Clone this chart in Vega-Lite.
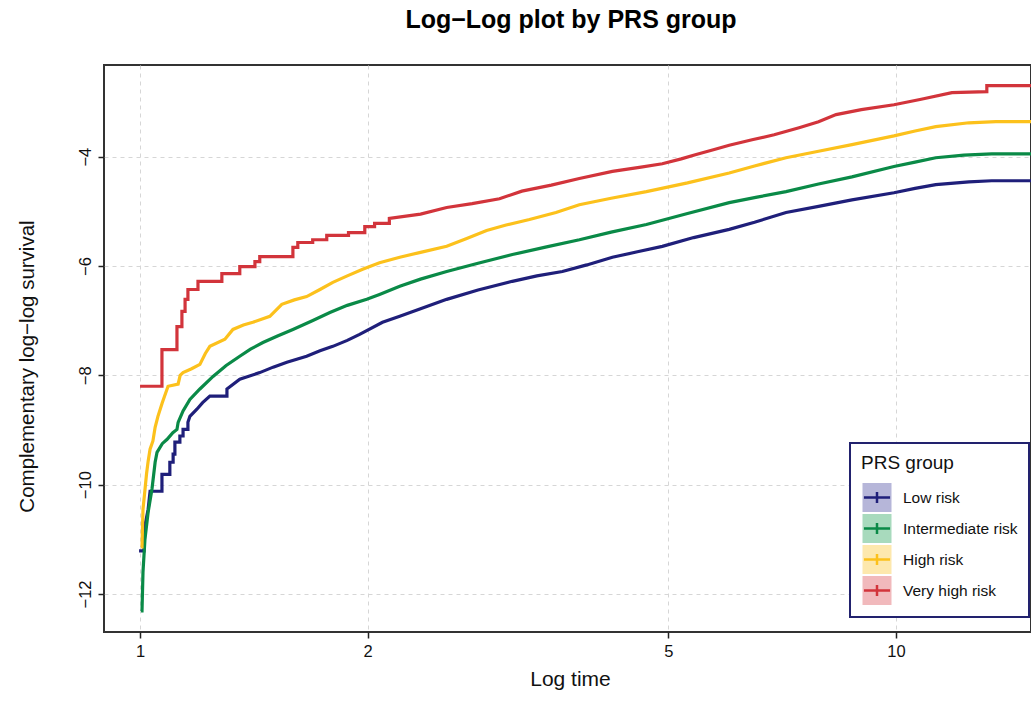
{
  "$schema": "https://vega.github.io/schema/vega-lite/v6.json",
  "autosize": "none",
  "width": 927,
  "height": 567,
  "padding": {"left": 104, "top": 65, "right": 0, "bottom": 70},
  "background": "white",
  "title": {"text": "Log−Log plot by PRS group", "fontSize": 25, "fontWeight": "bold", "font": "Liberation Sans", "color": "black", "anchor": "middle", "frame": "group", "baseline": "alphabetic", "offset": 12.4, "dx": 3.5},
  "config": {
    "font": "Liberation Sans",
    "view": {"stroke": "#333333", "strokeWidth": 2},
    "axis": {"labelFont": "Liberation Sans", "titleFont": "Liberation Sans", "labelColor": "#111111", "titleColor": "#111111", "titleFontWeight": "normal", "grid": true, "gridDash": [4, 4], "gridColor": "#d6d6d6", "gridWidth": 1, "domain": false, "tickColor": "#222222", "tickSize": 6, "tickWidth": 1.5},
    "legend": {"labelFont": "Liberation Sans", "titleFont": "Liberation Sans"}
  },
  "data": {"values": [
    {"g":"Low risk","i":0,"t":0.997,"y":-11.21},{"g":"Low risk","i":1,"t":1.012,"y":-11.21},{"g":"Low risk","i":2,"t":1.015,"y":-10.75},{"g":"Low risk","i":3,"t":1.025,"y":-10.45},{"g":"Low risk","i":4,"t":1.031,"y":-10.12},{"g":"Low risk","i":5,"t":1.069,"y":-10.12},{"g":"Low risk","i":6,"t":1.069,"y":-9.81},{"g":"Low risk","i":7,"t":1.095,"y":-9.81},{"g":"Low risk","i":8,"t":1.095,"y":-9.59},{"g":"Low risk","i":9,"t":1.106,"y":-9.59},{"g":"Low risk","i":10,"t":1.106,"y":-9.44},{"g":"Low risk","i":11,"t":1.112,"y":-9.44},{"g":"Low risk","i":12,"t":1.112,"y":-9.22},{"g":"Low risk","i":13,"t":1.129,"y":-9.22},{"g":"Low risk","i":14,"t":1.129,"y":-9.11},{"g":"Low risk","i":15,"t":1.14,"y":-9.11},{"g":"Low risk","i":16,"t":1.14,"y":-8.99},{"g":"Low risk","i":17,"t":1.157,"y":-8.99},{"g":"Low risk","i":18,"t":1.157,"y":-8.86},{"g":"Low risk","i":19,"t":1.164,"y":-8.75},{"g":"Low risk","i":20,"t":1.189,"y":-8.62},{"g":"Low risk","i":21,"t":1.21,"y":-8.5},{"g":"Low risk","i":22,"t":1.237,"y":-8.38},{"g":"Low risk","i":23,"t":1.303,"y":-8.38},{"g":"Low risk","i":24,"t":1.303,"y":-8.25},{"g":"Low risk","i":25,"t":1.355,"y":-8.07},{"g":"Low risk","i":26,"t":1.44,"y":-7.95},{"g":"Low risk","i":27,"t":1.5,"y":-7.85},{"g":"Low risk","i":28,"t":1.564,"y":-7.76},{"g":"Low risk","i":29,"t":1.661,"y":-7.65},{"g":"Low risk","i":30,"t":1.73,"y":-7.55},{"g":"Low risk","i":31,"t":1.799,"y":-7.47},{"g":"Low risk","i":32,"t":1.88,"y":-7.36},{"g":"Low risk","i":33,"t":1.952,"y":-7.25},{"g":"Low risk","i":34,"t":2.093,"y":-7.03},{"g":"Low risk","i":35,"t":2.206,"y":-6.92},{"g":"Low risk","i":36,"t":2.35,"y":-6.78},{"g":"Low risk","i":37,"t":2.545,"y":-6.61},{"g":"Low risk","i":38,"t":2.8,"y":-6.44},{"g":"Low risk","i":39,"t":3.108,"y":-6.28},{"g":"Low risk","i":40,"t":3.35,"y":-6.18},{"g":"Low risk","i":41,"t":3.62,"y":-6.1},{"g":"Low risk","i":42,"t":3.9,"y":-5.98},{"g":"Low risk","i":43,"t":4.216,"y":-5.84},{"g":"Low risk","i":44,"t":4.55,"y":-5.74},{"g":"Low risk","i":45,"t":4.908,"y":-5.64},{"g":"Low risk","i":46,"t":5.4,"y":-5.48},{"g":"Low risk","i":47,"t":6.018,"y":-5.33},{"g":"Low risk","i":48,"t":6.5,"y":-5.2},{"g":"Low risk","i":49,"t":7.155,"y":-5.02},{"g":"Low risk","i":50,"t":7.9,"y":-4.91},{"g":"Low risk","i":51,"t":8.746,"y":-4.79},{"g":"Low risk","i":52,"t":9.94,"y":-4.66},{"g":"Low risk","i":53,"t":10.6,"y":-4.58},{"g":"Low risk","i":54,"t":11.29,"y":-4.51},{"g":"Low risk","i":55,"t":12.49,"y":-4.46},{"g":"Low risk","i":56,"t":13.39,"y":-4.44},{"g":"Low risk","i":57,"t":15.1,"y":-4.44},

    {"g":"Intermediate risk","i":0,"t":1.003,"y":-12.31},{"g":"Intermediate risk","i":1,"t":1.006,"y":-12.31},{"g":"Intermediate risk","i":2,"t":1.009,"y":-11.6},{"g":"Intermediate risk","i":3,"t":1.015,"y":-11.0},{"g":"Intermediate risk","i":4,"t":1.025,"y":-10.5},{"g":"Intermediate risk","i":5,"t":1.037,"y":-10.08},{"g":"Intermediate risk","i":6,"t":1.047,"y":-9.59},{"g":"Intermediate risk","i":7,"t":1.053,"y":-9.41},{"g":"Intermediate risk","i":8,"t":1.07,"y":-9.25},{"g":"Intermediate risk","i":9,"t":1.086,"y":-9.17},{"g":"Intermediate risk","i":10,"t":1.105,"y":-9.05},{"g":"Intermediate risk","i":11,"t":1.119,"y":-8.99},{"g":"Intermediate risk","i":12,"t":1.123,"y":-8.86},{"g":"Intermediate risk","i":13,"t":1.14,"y":-8.65},{"g":"Intermediate risk","i":14,"t":1.164,"y":-8.44},{"g":"Intermediate risk","i":15,"t":1.2,"y":-8.25},{"g":"Intermediate risk","i":16,"t":1.249,"y":-8.02},{"g":"Intermediate risk","i":17,"t":1.3,"y":-7.82},{"g":"Intermediate risk","i":18,"t":1.355,"y":-7.65},{"g":"Intermediate risk","i":19,"t":1.4,"y":-7.52},{"g":"Intermediate risk","i":20,"t":1.454,"y":-7.4},{"g":"Intermediate risk","i":21,"t":1.52,"y":-7.28},{"g":"Intermediate risk","i":22,"t":1.593,"y":-7.16},{"g":"Intermediate risk","i":23,"t":1.69,"y":-7.0},{"g":"Intermediate risk","i":24,"t":1.783,"y":-6.85},{"g":"Intermediate risk","i":25,"t":1.88,"y":-6.72},{"g":"Intermediate risk","i":26,"t":1.995,"y":-6.61},{"g":"Intermediate risk","i":27,"t":2.074,"y":-6.52},{"g":"Intermediate risk","i":28,"t":2.206,"y":-6.37},{"g":"Intermediate risk","i":29,"t":2.35,"y":-6.24},{"g":"Intermediate risk","i":30,"t":2.545,"y":-6.1},{"g":"Intermediate risk","i":31,"t":2.8,"y":-5.95},{"g":"Intermediate risk","i":32,"t":3.109,"y":-5.79},{"g":"Intermediate risk","i":33,"t":3.45,"y":-5.65},{"g":"Intermediate risk","i":34,"t":3.813,"y":-5.52},{"g":"Intermediate risk","i":35,"t":4.2,"y":-5.38},{"g":"Intermediate risk","i":36,"t":4.676,"y":-5.24},{"g":"Intermediate risk","i":37,"t":5.3,"y":-5.04},{"g":"Intermediate risk","i":38,"t":6.018,"y":-4.84},{"g":"Intermediate risk","i":39,"t":6.55,"y":-4.74},{"g":"Intermediate risk","i":40,"t":7.155,"y":-4.64},{"g":"Intermediate risk","i":41,"t":7.9,"y":-4.5},{"g":"Intermediate risk","i":42,"t":8.746,"y":-4.37},{"g":"Intermediate risk","i":43,"t":9.94,"y":-4.18},{"g":"Intermediate risk","i":44,"t":10.6,"y":-4.1},{"g":"Intermediate risk","i":45,"t":11.29,"y":-4.02},{"g":"Intermediate risk","i":46,"t":12.3,"y":-3.97},{"g":"Intermediate risk","i":47,"t":13.39,"y":-3.95},{"g":"Intermediate risk","i":48,"t":15.1,"y":-3.95},

    {"g":"High risk","i":0,"t":1.003,"y":-11.14},{"g":"High risk","i":1,"t":1.006,"y":-11.14},{"g":"High risk","i":2,"t":1.009,"y":-10.45},{"g":"High risk","i":3,"t":1.015,"y":-10.1},{"g":"High risk","i":4,"t":1.02,"y":-9.8},{"g":"High risk","i":5,"t":1.025,"y":-9.57},{"g":"High risk","i":6,"t":1.031,"y":-9.35},{"g":"High risk","i":7,"t":1.04,"y":-9.2},{"g":"High risk","i":8,"t":1.047,"y":-8.95},{"g":"High risk","i":9,"t":1.056,"y":-8.75},{"g":"High risk","i":10,"t":1.07,"y":-8.5},{"g":"High risk","i":11,"t":1.089,"y":-8.2},{"g":"High risk","i":12,"t":1.123,"y":-8.16},{"g":"High risk","i":13,"t":1.13,"y":-8.0},{"g":"High risk","i":14,"t":1.14,"y":-7.95},{"g":"High risk","i":15,"t":1.17,"y":-7.88},{"g":"High risk","i":16,"t":1.2,"y":-7.8},{"g":"High risk","i":17,"t":1.22,"y":-7.6},{"g":"High risk","i":18,"t":1.237,"y":-7.47},{"g":"High risk","i":19,"t":1.295,"y":-7.34},{"g":"High risk","i":20,"t":1.327,"y":-7.16},{"g":"High risk","i":21,"t":1.37,"y":-7.08},{"g":"High risk","i":22,"t":1.41,"y":-7.03},{"g":"High risk","i":23,"t":1.485,"y":-6.92},{"g":"High risk","i":24,"t":1.54,"y":-6.7},{"g":"High risk","i":25,"t":1.6,"y":-6.62},{"g":"High risk","i":26,"t":1.661,"y":-6.56},{"g":"High risk","i":27,"t":1.73,"y":-6.43},{"g":"High risk","i":28,"t":1.799,"y":-6.3},{"g":"High risk","i":29,"t":1.88,"y":-6.18},{"g":"High risk","i":30,"t":1.97,"y":-6.06},{"g":"High risk","i":31,"t":2.074,"y":-5.94},{"g":"High risk","i":32,"t":2.206,"y":-5.84},{"g":"High risk","i":33,"t":2.35,"y":-5.75},{"g":"High risk","i":34,"t":2.545,"y":-5.64},{"g":"High risk","i":35,"t":2.7,"y":-5.5},{"g":"High risk","i":36,"t":2.874,"y":-5.35},{"g":"High risk","i":37,"t":3.05,"y":-5.25},{"g":"High risk","i":38,"t":3.275,"y":-5.15},{"g":"High risk","i":39,"t":3.55,"y":-5.02},{"g":"High risk","i":40,"t":3.812,"y":-4.88},{"g":"High risk","i":41,"t":4.2,"y":-4.76},{"g":"High risk","i":42,"t":4.676,"y":-4.64},{"g":"High risk","i":43,"t":5.3,"y":-4.48},{"g":"High risk","i":44,"t":6.018,"y":-4.3},{"g":"High risk","i":45,"t":6.5,"y":-4.17},{"g":"High risk","i":46,"t":7.155,"y":-4.02},{"g":"High risk","i":47,"t":7.9,"y":-3.9},{"g":"High risk","i":48,"t":8.746,"y":-3.78},{"g":"High risk","i":49,"t":9.94,"y":-3.62},{"g":"High risk","i":50,"t":10.6,"y":-3.53},{"g":"High risk","i":51,"t":11.29,"y":-3.45},{"g":"High risk","i":52,"t":12.49,"y":-3.38},{"g":"High risk","i":53,"t":13.56,"y":-3.36},{"g":"High risk","i":54,"t":15.1,"y":-3.36},

    {"g":"Very high risk","i":0,"t":1.0,"y":-8.2},{"g":"Very high risk","i":1,"t":1.069,"y":-8.2},{"g":"Very high risk","i":2,"t":1.069,"y":-7.53},{"g":"Very high risk","i":3,"t":1.119,"y":-7.53},{"g":"Very high risk","i":4,"t":1.119,"y":-7.11},{"g":"Very high risk","i":5,"t":1.136,"y":-7.11},{"g":"Very high risk","i":6,"t":1.136,"y":-6.83},{"g":"Very high risk","i":7,"t":1.147,"y":-6.83},{"g":"Very high risk","i":8,"t":1.147,"y":-6.61},{"g":"Very high risk","i":9,"t":1.157,"y":-6.61},{"g":"Very high risk","i":10,"t":1.157,"y":-6.43},{"g":"Very high risk","i":11,"t":1.193,"y":-6.43},{"g":"Very high risk","i":12,"t":1.193,"y":-6.28},{"g":"Very high risk","i":13,"t":1.283,"y":-6.28},{"g":"Very high risk","i":14,"t":1.283,"y":-6.14},{"g":"Very high risk","i":15,"t":1.355,"y":-6.14},{"g":"Very high risk","i":16,"t":1.355,"y":-6.01},{"g":"Very high risk","i":17,"t":1.419,"y":-6.01},{"g":"Very high risk","i":18,"t":1.419,"y":-5.92},{"g":"Very high risk","i":19,"t":1.44,"y":-5.92},{"g":"Very high risk","i":20,"t":1.44,"y":-5.83},{"g":"Very high risk","i":21,"t":1.593,"y":-5.83},{"g":"Very high risk","i":22,"t":1.593,"y":-5.66},{"g":"Very high risk","i":23,"t":1.617,"y":-5.66},{"g":"Very high risk","i":24,"t":1.617,"y":-5.57},{"g":"Very high risk","i":25,"t":1.692,"y":-5.57},{"g":"Very high risk","i":26,"t":1.692,"y":-5.52},{"g":"Very high risk","i":27,"t":1.766,"y":-5.52},{"g":"Very high risk","i":28,"t":1.766,"y":-5.44},{"g":"Very high risk","i":29,"t":1.887,"y":-5.44},{"g":"Very high risk","i":30,"t":1.887,"y":-5.39},{"g":"Very high risk","i":31,"t":1.983,"y":-5.39},{"g":"Very high risk","i":32,"t":1.983,"y":-5.28},{"g":"Very high risk","i":33,"t":2.043,"y":-5.28},{"g":"Very high risk","i":34,"t":2.043,"y":-5.22},{"g":"Very high risk","i":35,"t":2.137,"y":-5.22},{"g":"Very high risk","i":36,"t":2.137,"y":-5.13},{"g":"Very high risk","i":37,"t":2.35,"y":-5.05},{"g":"Very high risk","i":38,"t":2.545,"y":-4.93},{"g":"Very high risk","i":39,"t":2.75,"y":-4.86},{"g":"Very high risk","i":40,"t":2.989,"y":-4.77},{"g":"Very high risk","i":41,"t":3.2,"y":-4.63},{"g":"Very high risk","i":42,"t":3.5,"y":-4.52},{"g":"Very high risk","i":43,"t":3.812,"y":-4.4},{"g":"Very high risk","i":44,"t":4.216,"y":-4.27},{"g":"Very high risk","i":45,"t":4.6,"y":-4.19},{"g":"Very high risk","i":46,"t":4.908,"y":-4.13},{"g":"Very high risk","i":47,"t":5.2,"y":-4.04},{"g":"Very high risk","i":48,"t":5.442,"y":-3.96},{"g":"Very high risk","i":49,"t":5.75,"y":-3.87},{"g":"Very high risk","i":50,"t":6.018,"y":-3.79},{"g":"Very high risk","i":51,"t":6.452,"y":-3.69},{"g":"Very high risk","i":52,"t":6.9,"y":-3.6},{"g":"Very high risk","i":53,"t":7.445,"y":-3.47},{"g":"Very high risk","i":54,"t":7.9,"y":-3.36},{"g":"Very high risk","i":55,"t":8.333,"y":-3.23},{"g":"Very high risk","i":56,"t":9.0,"y":-3.14},{"g":"Very high risk","i":57,"t":9.94,"y":-3.05},{"g":"Very high risk","i":58,"t":10.8,"y":-2.95},{"g":"Very high risk","i":59,"t":11.86,"y":-2.83},{"g":"Very high risk","i":60,"t":13.19,"y":-2.81},{"g":"Very high risk","i":61,"t":13.19,"y":-2.7},{"g":"Very high risk","i":62,"t":15.1,"y":-2.7}
  ]},
  "encoding": {
    "x": {"field": "t", "type": "quantitative", "scale": {"type": "log", "domain": [0.896, 15.09], "nice": false, "zero": false},
      "axis": {"title": "Log time", "values": [1, 2, 5, 10], "format": "~g", "labelFontSize": 16.5, "labelPadding": 5, "titleFontSize": 21, "titleX": 466, "titleY": 53, "titleBaseline": "alphabetic", "titleAlign": "center"}},
    "y": {"field": "y", "type": "quantitative", "scale": {"domain": [-12.695, -2.323], "nice": false, "zero": false},
      "axis": {"title": "Complementary log−log survival", "values": [-12, -10, -8, -6, -4], "format": "~g", "labelFontSize": 16.5, "labelAngle": 270, "labelAlign": "center", "labelBaseline": "alphabetic", "labelPadding": 8, "titleFontSize": 20.5, "titleAngle": 270, "titleX": -71, "titleY": 301, "titleBaseline": "alphabetic", "titleAlign": "center"}}
  },
  "layer": [
    {
      "mark": {"type": "point", "shape": "square", "filled": true, "opacity": 0},
      "encoding": {
        "fill": {"field": "g", "type": "nominal",
          "scale": {"domain": ["Low risk", "Intermediate risk", "High risk", "Very high risk"], "range": ["#b6b6d9", "#a8dabd", "#fde8ad", "#f1b9bc"]},
          "legend": {"title": "PRS group", "orient": "none", "legendX": 746, "legendY": 378, "symbolType": "square", "symbolSize": 841, "symbolStrokeWidth": 2.5, "symbolStrokeColor": "transparent", "symbolOpacity": 1, "padding": 11, "titleFontSize": 19, "titleFontWeight": "normal", "titleColor": "#111111", "titlePadding": 9, "labelFontSize": 15.5, "labelColor": "#111111", "labelOffset": 10, "rowPadding": 0, "clipHeight": 31, "strokeColor": "#22226e", "fillColor": "white",
            "encode": {"symbols": {"update": {"opacity": {"value": 1}, "stroke": {"value": "transparent"}}}, "legend": {"update": {"strokeWidth": {"value": 2}}}}}
        }
      }
    },
    {
      "mark": {"type": "line", "strokeWidth": 3.2, "clip": true},
      "encoding": {
        "stroke": {"field": "g", "type": "nominal",
          "sort": ["Low risk", "Intermediate risk", "High risk", "Very high risk"],
          "scale": {"range": ["#1f1f7a", "#0a8a47", "#fcc11c", "#d2343b"]},
          "legend": {"title": "PRS group", "orient": "none", "legendX": 746, "legendY": 378, "symbolType": "M-1,-1M-0.9,0L0.9,0M0,-0.38L0,0.38M1,1", "symbolSize": 841, "symbolStrokeWidth": 2.5, "padding": 11, "titleFontSize": 19, "titleFontWeight": "normal", "titleOpacity": 0, "titlePadding": 9, "labelFontSize": 15.5, "labelOpacity": 0, "labelOffset": 10, "rowPadding": 0, "clipHeight": 31}
        },
        "order": {"field": "i", "type": "quantitative"}
      }
    }
  ]
}
